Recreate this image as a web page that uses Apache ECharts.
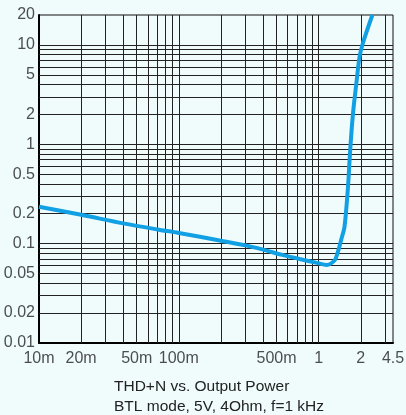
<!DOCTYPE html>
<html>
<head>
<meta charset="utf-8">
<title>THD+N vs. Output Power</title>
<script src="https://cdn.jsdelivr.net/npm/echarts@6/dist/echarts.min.js"></script>
<style>
  html, body { margin: 0; padding: 0; background: #f0fcfc; }
  #chart { width: 406px; height: 415px; }
</style>
</head>
<body>
<div id="chart"></div>
<script>
// output power (W) and THD+N (%)
const powerW = [0.01, 0.02, 0.04, 0.07, 0.1, 0.2, 0.3, 0.4, 0.55, 0.73, 0.97, 1.14, 1.3, 1.38, 1.45, 1.53, 1.62, 1.68, 1.76, 1.86, 1.96, 2.07, 2.42]
const thdPct = [0.235, 0.195, 0.16, 0.139, 0.128, 0.107, 0.096, 0.087, 0.077, 0.07, 0.064, 0.061, 0.068, 0.085, 0.11, 0.148, 0.37, 0.875, 2.05, 4.1, 7.6, 10.4, 20]

// axis ticks
const xTickValues = [0.01, 0.02, 0.05, 0.1, 0.5, 1, 2, 3.4]
const xTickLabels = ['10m', '20m', '50m', '100m', '500m', '1', '2', '4.5']
const yTickValues = [0.01, 0.02, 0.05, 0.1, 0.2, 0.5, 1, 2, 5, 10, 20]
const yTickLabels = ['0.01', '0.02', '0.05', '0.1', '0.2', '0.5', '1', '2', '5', '10', '20']

const xMin = 0.01, xMax = 3.4
const yMin = 0.01, yMax = 20

// 1..9 per decade grid
function logGrid(min, max) {
  const out = []
  for (let d = min; d < max; d *= 10) {
    for (let n = 1; n <= 9; n++) {
      const v = +(n * d).toPrecision(3)
      if (v > min && v < max) out.push(v)
    }
  }
  return out
}
const xGrid = logGrid(xMin, xMax)
const yGrid = logGrid(yMin, yMax)

const font = 'Liberation Sans, Arial, sans-serif'
const chart = echarts.init(document.getElementById('chart'))

chart.setOption({
  backgroundColor: '#f0fcfc',
  animation: false,
  title: {
    text: 'THD+N vs. Output Power',
    subtext: 'BTL mode, 5V, 4Ohm, f=1 kHz',
    left: 114,
    top: 379,
    padding: 0,
    itemGap: 4,
    textStyle: { fontFamily: font, fontSize: 15.5, fontWeight: 'normal', color: '#222' },
    subtextStyle: { fontFamily: font, fontSize: 15.5, color: '#222' }
  },
  grid: {
    left: 39,
    right: 13,
    top: 15,
    bottom: 72,
    show: true,
    backgroundColor: '#f0fcfc',
    borderColor: '#111',
    borderWidth: 1
  },
  xAxis: {
    type: 'log',
    logBase: 10,
    min: xMin,
    max: xMax,
    axisLine: { show: true, lineStyle: { color: '#000', width: 2 } },
    axisTick: { show: false },
    axisLabel: { show: false },
    splitLine: { show: false }
  },
  yAxis: {
    type: 'log',
    logBase: 10,
    min: yMin,
    max: yMax,
    axisLine: { show: true, lineStyle: { color: '#000', width: 2 } },
    axisTick: { show: false },
    axisLabel: { show: false },
    splitLine: { show: false }
  },
  series: [
    {
      // grid lines
      type: 'line',
      data: [],
      silent: true,
      markLine: {
        silent: true,
        symbol: 'none',
        label: { show: false },
        lineStyle: { color: '#222', width: 1, type: 'solid' },
        data: xGrid.map(v => ({ xAxis: v })).concat(yGrid.map(v => ({ yAxis: v })))
      }
    },
    {
      type: 'line',
      data: powerW.map((p, i) => [p, thdPct[i]]),
      showSymbol: false,
      smooth: 0.3,
      lineStyle: { color: '#12a0e4', width: 4 },
      z: 5
    },
    {
      // x tick labels
      type: 'scatter',
      symbolSize: 0,
      clip: false,
      silent: true,
      data: xTickValues.map(v => [v, yMin]),
      label: {
        show: true,
        position: 'bottom',
        distance: 8,
        fontFamily: font,
        fontSize: 16,
        color: '#222',
        formatter: p => xTickLabels[p.dataIndex]
      }
    },
    {
      // y tick labels
      type: 'scatter',
      symbolSize: 0,
      clip: false,
      silent: true,
      data: yTickValues.map(v => [xMin, v]),
      label: {
        show: true,
        position: 'left',
        distance: 4,
        fontFamily: font,
        fontSize: 16,
        color: '#222',
        formatter: p => yTickLabels[p.dataIndex]
      }
    }
  ]
})
</script>
</body>
</html>
